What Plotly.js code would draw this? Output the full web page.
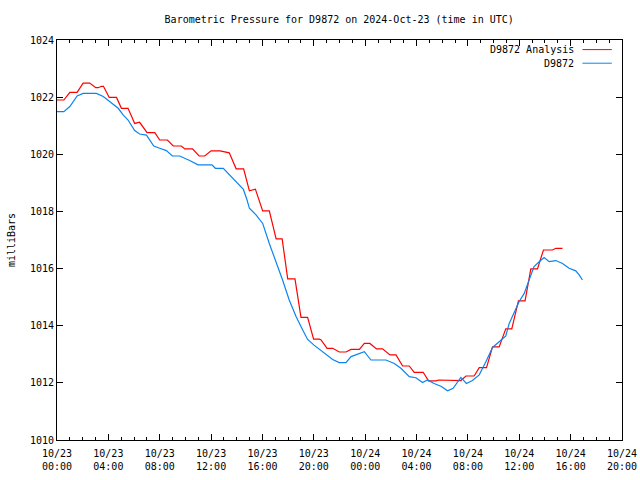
<!DOCTYPE html>
<html>
<head>
<meta charset="utf-8">
<script src="https://cdn.plot.ly/plotly-3.0.1.min.js"></script>
<style>html,body{margin:0;padding:0;background:#fff}#chart{width:640px;height:480px}</style>
</head>
<body>
<div id="chart"></div>
<script>
// D9872 Analysis (red)
const analysisTimes = [
 '2024-10-23 00:00','2024-10-23 00:32','2024-10-23 01:00','2024-10-23 01:34','2024-10-23 02:02','2024-10-23 02:33',
 '2024-10-23 03:01','2024-10-23 03:12','2024-10-23 03:28','2024-10-23 03:37','2024-10-23 04:04','2024-10-23 04:38',
 '2024-10-23 05:01','2024-10-23 05:32','2024-10-23 06:03','2024-10-23 06:26','2024-10-23 07:01','2024-10-23 07:37',
 '2024-10-23 08:00','2024-10-23 08:36','2024-10-23 09:03','2024-10-23 09:41','2024-10-23 09:57','2024-10-23 10:33',
 '2024-10-23 11:04','2024-10-23 11:30','2024-10-23 12:00','2024-10-23 12:42','2024-10-23 13:25','2024-10-23 13:57',
 '2024-10-23 14:32','2024-10-23 14:59','2024-10-23 15:27','2024-10-23 16:01','2024-10-23 16:32','2024-10-23 17:04',
 '2024-10-23 17:32','2024-10-23 17:58','2024-10-23 18:32','2024-10-23 19:00','2024-10-23 19:31','2024-10-23 19:59',
 '2024-10-23 20:26','2024-10-23 20:34','2024-10-23 21:02','2024-10-23 21:28','2024-10-23 21:59','2024-10-23 22:30',
 '2024-10-23 22:54','2024-10-23 23:33','2024-10-23 23:56','2024-10-24 00:22','2024-10-24 00:53','2024-10-24 01:21',
 '2024-10-24 01:56','2024-10-24 02:24','2024-10-24 02:55','2024-10-24 03:26','2024-10-24 03:49','2024-10-24 04:31',
 '2024-10-24 04:56','2024-10-24 05:31','2024-10-24 05:43','2024-10-24 06:41','2024-10-24 06:47','2024-10-24 07:27',
 '2024-10-24 07:51','2024-10-24 08:29','2024-10-24 08:53','2024-10-24 09:27','2024-10-24 09:55','2024-10-24 10:26',
 '2024-10-24 10:57','2024-10-24 11:25','2024-10-24 11:56','2024-10-24 12:27','2024-10-24 12:54','2024-10-24 13:25',
 '2024-10-24 13:53','2024-10-24 14:35','2024-10-24 14:51','2024-10-24 15:22'
];
const analysisPressure = [
 1021.90,1021.90,1022.17,1022.17,1022.49,1022.49,
 1022.33,1022.33,1022.38,1022.38,1021.99,1021.99,
 1021.61,1021.61,1021.08,1021.12,1020.76,1020.76,
 1020.50,1020.50,1020.29,1020.29,1020.19,1020.19,
 1019.94,1019.94,1020.12,1020.12,1020.05,1019.49,
 1019.49,1018.72,1018.78,1018.02,1018.02,1017.04,
 1017.04,1015.64,1015.64,1014.29,1014.29,1013.53,
 1013.53,1013.50,1013.21,1013.21,1013.08,1013.08,
 1013.17,1013.17,1013.38,1013.38,1013.19,1013.19,
 1012.98,1012.98,1012.59,1012.59,1012.37,1012.37,
 1012.07,1012.07,1012.10,1012.10,1012.08,1012.08,
 1012.24,1012.24,1012.53,1012.53,1013.26,1013.26,
 1013.89,1013.89,1014.87,1014.87,1015.99,1015.99,
 1016.65,1016.65,1016.71,1016.71
];
// D9872 observed (blue)
const obsTimes = [
 '2024-10-23 00:00','2024-10-23 00:32','2024-10-23 01:00','2024-10-23 01:34','2024-10-23 02:02','2024-10-23 03:04',
 '2024-10-23 03:36','2024-10-23 04:14','2024-10-23 04:46','2024-10-23 05:09','2024-10-23 05:32','2024-10-23 06:03',
 '2024-10-23 06:26','2024-10-23 06:58','2024-10-23 07:32','2024-10-23 08:00','2024-10-23 08:31','2024-10-23 08:59',
 '2024-10-23 09:33','2024-10-23 10:20','2024-10-23 10:59','2024-10-23 12:04','2024-10-23 12:20','2024-10-23 12:57',
 '2024-10-23 13:25','2024-10-23 14:12','2024-10-23 14:31','2024-10-23 14:48','2024-10-23 14:59','2024-10-23 15:30',
 '2024-10-23 16:01','2024-10-23 16:32','2024-10-23 17:04','2024-10-23 17:34','2024-10-23 18:05','2024-10-23 18:37',
 '2024-10-23 19:08','2024-10-23 19:31','2024-10-23 20:01','2024-10-23 20:26','2024-10-23 20:57','2024-10-23 21:28',
 '2024-10-23 21:59','2024-10-23 22:30','2024-10-23 22:54','2024-10-23 23:25','2024-10-23 23:56','2024-10-24 00:27',
 '2024-10-24 01:37','2024-10-24 02:16','2024-10-24 02:47','2024-10-24 03:26','2024-10-24 03:57','2024-10-24 04:28',
 '2024-10-24 04:51','2024-10-24 05:22','2024-10-24 05:56','2024-10-24 06:25','2024-10-24 06:51','2024-10-24 07:27',
 '2024-10-24 07:53','2024-10-24 08:21','2024-10-24 08:53','2024-10-24 09:24','2024-10-24 09:55','2024-10-24 10:26',
 '2024-10-24 10:57','2024-10-24 11:13','2024-10-24 11:36','2024-10-24 11:59','2024-10-24 12:23','2024-10-24 12:46',
 '2024-10-24 13:09','2024-10-24 13:33','2024-10-24 13:56','2024-10-24 14:20','2024-10-24 14:51','2024-10-24 15:22',
 '2024-10-24 15:53','2024-10-24 16:24','2024-10-24 16:40','2024-10-24 16:55'
];
const obsPressure = [
 1021.49,1021.49,1021.67,1022.04,1022.13,1022.13,
 1022.02,1021.78,1021.61,1021.38,1021.20,1020.83,
 1020.71,1020.67,1020.29,1020.21,1020.13,1019.94,
 1019.94,1019.78,1019.63,1019.63,1019.51,1019.51,
 1019.28,1018.93,1018.77,1018.40,1018.11,1017.88,
 1017.58,1016.88,1016.24,1015.60,1014.90,1014.32,
 1013.85,1013.52,1013.32,1013.17,1012.98,1012.82,
 1012.71,1012.71,1012.92,1013.01,1013.09,1012.80,
 1012.80,1012.68,1012.51,1012.22,1012.18,1012.01,
 1012.10,1011.98,1011.87,1011.72,1011.81,1012.19,
 1011.98,1012.08,1012.28,1012.74,1013.24,1013.44,
 1013.64,1014.08,1014.49,1014.84,1015.13,1015.60,
 1016.07,1016.24,1016.39,1016.24,1016.28,1016.18,
 1016.01,1015.92,1015.78,1015.60
];
const seriesNames = ['D9872 Analysis', 'D9872'];
const seriesColors = ['#ff0000', '#0a84f0'];
const titleText = 'Barometric Pressure for D9872 on 2024-Oct-23 (time in UTC)';
const yTitle = 'milliBars';

const FONT = 'DejaVu Sans Mono, Liberation Mono, monospace';

const traces = [
  {x: analysisTimes, y: analysisPressure, type: 'scatter', mode: 'lines', name: seriesNames[0],
   line: {color: seriesColors[0], width: 1.2}},
  {x: obsTimes, y: obsPressure, type: 'scatter', mode: 'lines', name: seriesNames[1],
   line: {color: seriesColors[1], width: 1.2}}
];

// custom gnuplot-style key: text then line sample
const keyY = [0.976, 0.942];
const annotations = seriesNames.map((n, i) => ({
  xref: 'paper', yref: 'paper', x: 0.918, y: keyY[i], xanchor: 'right', yanchor: 'middle',
  text: n, showarrow: false, font: {family: FONT, size: 10, color: '#000'}
}));
const shapes = seriesNames.map((n, i) => ({
  type: 'line', xref: 'paper', yref: 'paper', x0: 0.93, x1: 0.982, y0: keyY[i], y1: keyY[i],
  line: {color: seriesColors[i], width: 1}
}));

const layout = {
  width: 640, height: 480,
  margin: {l: 57, r: 18, t: 40, b: 40},
  paper_bgcolor: '#fff', plot_bgcolor: '#fff',
  showlegend: false,
  font: {family: FONT, size: 10, color: '#000'},
  title: {text: titleText, font: {family: FONT, size: 10, color: '#000'},
          x: 0.53, xanchor: 'center', y: 0.96, yanchor: 'middle'},
  xaxis: {
    type: 'date',
    range: ['2024-10-23 00:00', '2024-10-24 20:00'],
    tick0: '2024-10-23 00:00', dtick: 4 * 3600000,
    tickformat: '%m/%d<br>%H:%M',
    ticks: 'inside', ticklen: 6, tickcolor: '#000', tickwidth: 1,
    ticklabelstandoff: 4,
    minor: {dtick: 3600000, ticks: 'inside', ticklen: 3, tickcolor: '#000', showgrid: false},
    showline: true, linecolor: '#000', linewidth: 1, mirror: 'allticks',
    showgrid: false, zeroline: false,
    tickfont: {family: FONT, size: 10, color: '#000'}
  },
  yaxis: {
    range: [1010, 1024], dtick: 2, tick0: 1010,
    ticks: 'inside', ticklen: 6, tickcolor: '#000', tickwidth: 1,
    showline: true, linecolor: '#000', linewidth: 1, mirror: 'allticks',
    showgrid: false, zeroline: false,
    tickfont: {family: FONT, size: 10, color: '#000'},
    title: {text: yTitle, font: {family: FONT, size: 10, color: '#000'}, standoff: 12}
  },
  annotations: annotations,
  shapes: shapes
};

Plotly.newPlot('chart', traces, layout, {displayModeBar: false, staticPlot: true});
</script>
</body>
</html>
